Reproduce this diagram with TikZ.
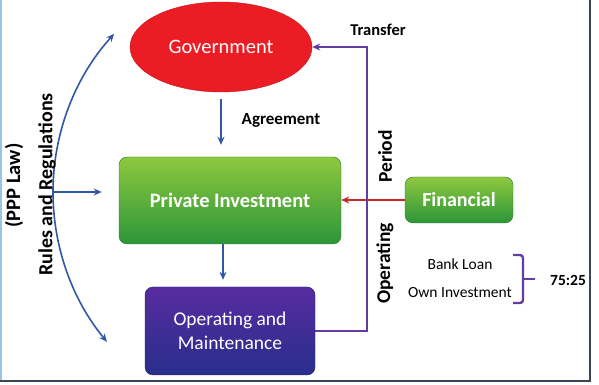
\documentclass[tikz,border=0pt]{standalone}
\usepackage{fontspec}
\setmainfont{Carlito}
\usepackage{xcolor}
\usepackage{tikz}
\usetikzlibrary{arrows.meta,shapes.geometric}
\definecolor{govred}{RGB}{236,28,36}
\definecolor{pitop}{RGB}{142,200,62}
\definecolor{pibot}{RGB}{44,150,58}
\definecolor{omtop}{RGB}{88,44,160}
\definecolor{ombot}{RGB}{40,46,140}
\definecolor{arrowblue}{RGB}{48,88,168}
\definecolor{linepurple}{RGB}{98,60,162}
\definecolor{arrowred}{RGB}{200,40,40}
\definecolor{framedark}{RGB}{58,70,84}
\definecolor{framelight}{RGB}{156,195,230}
\def\fsize#1{\fontsize{#1}{#1}\selectfont}

\begin{document}
\begin{tikzpicture}[x=1pt,y=1pt,>={Stealth[length=8pt,width=7pt]}]
    \tikzstyle{box}=[rounded corners=8pt,text=white,align=center,inner sep=0pt]
    \tikzstyle{green box}=[box,top color=pitop,bottom color=pibot,draw=pibot!80!black]
    \tikzstyle{blue box}=[box,top color=omtop,bottom color=ombot,draw=ombot!70!black]
    \tikzstyle{blue arrow}=[->,draw=arrowblue,line width=1.6pt]
    \tikzstyle{annot}=[inner sep=0pt,font=\bfseries\fsize{17}]
    \tikzstyle{side}=[inner sep=0pt,rotate=90,font=\bfseries\fsize{20}]

    \useasboundingbox (0,0) rectangle (599,385);

    % Draw the frame
    \draw[framelight,line width=1.5pt] (1,385) -- (1,4);
    \draw[framedark,line width=1.5pt] (590,385) -- (590,4) -- (0,4);

    % Draw the main nodes
    \node[ellipse,fill=govred,draw=govred!80!black,minimum width=182pt,
        minimum height=90pt,text=white,font=\fsize{20.5}] (gov) at (221,338) {Government};
    \node[green box,minimum width=222pt,minimum height=87pt,
        font=\bfseries\fsize{20.5}] (pi) at (230,184.5) {Private Investment};
    \node[blue box,minimum width=170pt,minimum height=88pt,
        font=\fontsize{19.5}{23.5}\selectfont] (om) at (230,54) {Operating and\\Maintenance};
    \node[green box,minimum width=108pt,minimum height=46pt,
        font=\bfseries\fsize{20}] (fin) at (459,185) {Financial};

    % Connect the main nodes
    \draw[blue arrow,shorten <=7pt,shorten >=12pt] (gov.south) -- (gov.south |- pi.north);
    \draw[blue arrow,shorten >=7pt] ([xshift=-7pt]pi.south) -- ([xshift=-7pt]om.north);
    \draw[->,draw=arrowred,line width=1.8pt] (fin.west) -- (fin.west -| pi.east);
    \coordinate (turn) at (367,338);
    \draw[->,draw=linepurple,line width=2pt] (om.east) -| (turn) -- (gov.east);

    % Annotate the connectors
    \node[annot] (agr) at (281,265) {Agreement};
    \node[annot,font=\bfseries\fsize{16.5}] (trans) at (378,355) {Transfer};
    \node[side,font=\bfseries\fsize{19.5}] (period) at (385,228.5) {Period};
    \node[side,font=\bfseries\fsize{19.5}] (oper) at (385,121.5) {Operating};

    % Financing split
    \node[inner sep=0pt,font=\fsize{15.5}] (bank) at (460,121) {Bank Loan};
    \node[inner sep=0pt,font=\fsize{15.5},below of=bank,node distance=29pt] (own) {Own Investment};
    \coordinate (brace top) at (513,130);
    \coordinate (brace bot) at (513,82);
    \coordinate (brace tip) at (535,106);
    \draw[linepurple,line width=2.4pt,rounded corners=3pt]
        (brace top) -- ++(10,0) |- (brace bot);
    \draw[linepurple,line width=2.4pt] (brace tip -| 523,0) -- (brace tip);
    \node[annot,font=\bfseries\fsize{15.5}] (ratio) at (568,105) {75:25};

    % Rules and regulations on the left
    \coordinate (law mid) at (53,193);
    \draw[blue arrow] (law mid) arc[start angle=180,end angle=137.7,radius=235];
    \draw[blue arrow] (law mid) arc[start angle=180,end angle=219.6,radius=235];
    \draw[blue arrow,shorten >=17pt] (law mid) -- (law mid -| pi.west);
    \node[side,font=\bfseries\fsize{20}] (rules) at (47,200.5) {Rules and Regulations};
    \node[side,font=\bfseries\fsize{20.5}] (ppp) at (14,199.5) {(PPP Law)};
\end{tikzpicture}
\end{document}
